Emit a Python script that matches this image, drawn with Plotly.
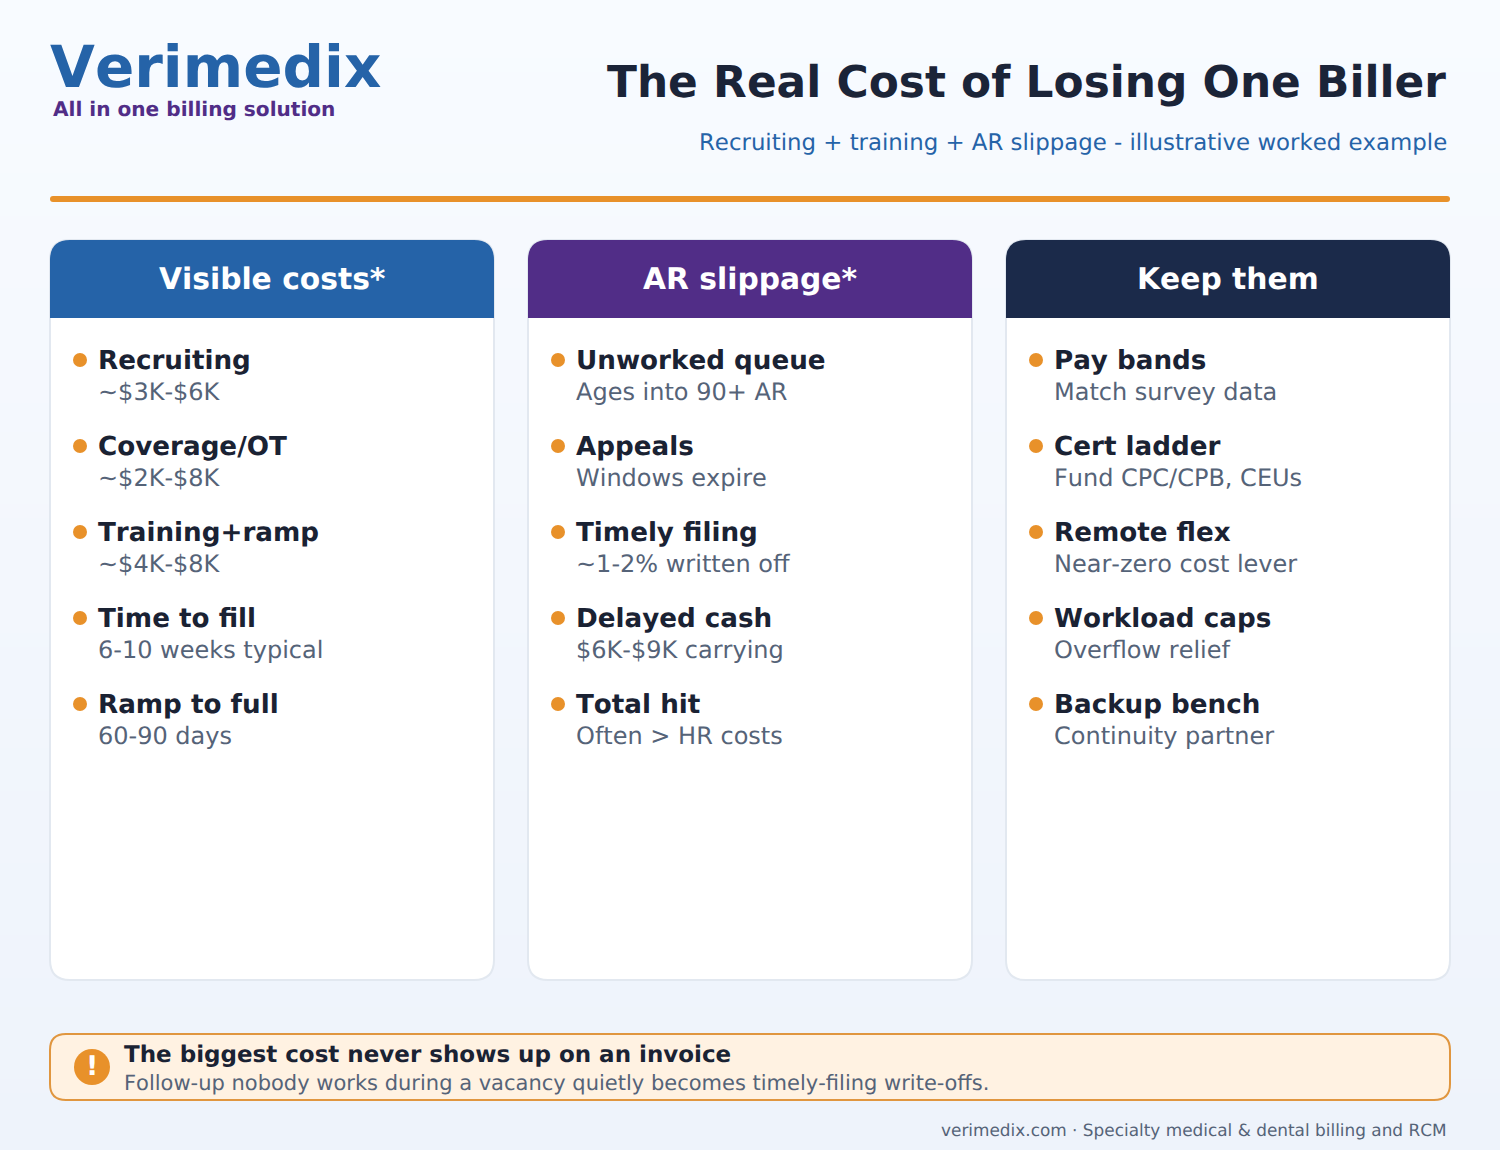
import plotly.graph_objects as go

WIDTH = 1500
HEIGHT = 1150

BLUE = "#2563A8"
PURPLE = "#512D87"
NAVY = "#1B2A4A"
ORANGE = "#E8912A"
DARK = "#1A2233"
GREY = "#556378"

columns = ["Visible costs*", "AR slippage*", "Keep them"]
column_colors = [BLUE, PURPLE, NAVY]
column_lefts = [50, 528, 1006]

item_titles = [
    ["Recruiting", "Coverage/OT", "Training+ramp", "Time to fill", "Ramp to full"],
    ["Unworked queue", "Appeals", "Timely filing", "Delayed cash", "Total hit"],
    ["Pay bands", "Cert ladder", "Remote flex", "Workload caps", "Backup bench"],
]
item_notes = [
    ["~$3K-$6K", "~$2K-$8K", "~$4K-$8K", "6-10 weeks typical", "60-90 days"],
    ["Ages into 90+ AR", "Windows expire", "~1-2% written off", "$6K-$9K carrying", "Often > HR costs"],
    ["Match survey data", "Fund CPC/CPB, CEUs", "Near-zero cost lever", "Overflow relief", "Continuity partner"],
]

FONT = "DejaVu Sans"


def rounded_rect(x0, y0, x1, y1, r):
    return (
        f"M{x0 + r},{y0} L{x1 - r},{y0} Q{x1},{y0} {x1},{y0 + r} "
        f"L{x1},{y1 - r} Q{x1},{y1} {x1 - r},{y1} L{x0 + r},{y1} "
        f"Q{x0},{y1} {x0},{y1 - r} L{x0},{y0 + r} Q{x0},{y0} {x0 + r},{y0} Z"
    )


def top_rounded(x0, y0, x1, y1, r):
    return (
        f"M{x0 + r},{y0} L{x1 - r},{y0} Q{x1},{y0} {x1},{y0 + r} "
        f"L{x1},{y1} L{x0},{y1} L{x0},{y0 + r} Q{x0},{y0} {x0 + r},{y0} Z"
    )


shapes = []
annotations = []


def add_text(text, x, y, size, color, anchor="left", bold=False):
    annotations.append(dict(
        text=f"<b>{text}</b>" if bold else text,
        x=x, y=y, xref="x", yref="y",
        xanchor=anchor, yanchor="middle",
        showarrow=False,
        borderpad=0,
        font=dict(family=FONT, size=size, color=color),
    ))


# Header
add_text("Verimedix", 49, 67, 58, BLUE, bold=True)
add_text("All in one billing solution", 52, 109, 20.1, PURPLE, bold=True)
add_text("The Real Cost of Losing One Biller", 1447, 82, 43.85, "#1B2438", anchor="right", bold=True)
add_text("Recruiting + training + AR slippage - illustrative worked example", 1448, 143, 22.85, BLUE, anchor="right")
shapes.append(dict(type="path", path=rounded_rect(50, 196, 1450, 202, 3), fillcolor=ORANGE, line_width=0))

# Cards
for left, name, color, titles, notes in zip(column_lefts, columns, column_colors, item_titles, item_notes):
    shapes.append(dict(type="path", path=rounded_rect(left, 240, left + 444, 980, 20),
                       fillcolor="white", line=dict(color="#E2E8F0", width=2)))
    shapes.append(dict(type="path", path=top_rounded(left, 240, left + 444, 318, 20),
                       fillcolor=color, line_width=0))
    add_text(name, left + 222, 279, 29.75, "white", anchor="center", bold=True)
    for i, (title, note) in enumerate(zip(titles, notes)):
        top = 360 + i * 86
        shapes.append(dict(type="circle", x0=left + 23, x1=left + 37, y0=top - 7, y1=top + 7,
                           fillcolor=ORANGE, line_width=0))
        add_text(title, left + 47, top + 1, 26.2, DARK, bold=True)
        add_text(note, left + 47, top + 32, 24, GREY)

# Callout
shapes.append(dict(type="path", path=rounded_rect(50, 1034, 1450, 1100, 16),
                   fillcolor="#FFF2E2", line=dict(color="#E0963F", width=2)))
shapes.append(dict(type="circle", x0=74, x1=110, y0=1049, y1=1085, fillcolor=ORANGE, line_width=0))
add_text("!", 92, 1066, 27, "white", anchor="center", bold=True)
add_text("The biggest cost never shows up on an invoice", 123, 1055, 23, DARK, bold=True)
add_text("Follow-up nobody works during a vacancy quietly becomes timely-filing write-offs.", 123, 1083, 21, GREY)
add_text("verimedix.com · Specialty medical &amp; dental billing and RCM", 1448, 1130, 16.9, GREY, anchor="right")

fig = go.Figure()

# Page background gradient, top to bottom
fig.add_trace(go.Heatmap(
    x=[0, WIDTH],
    y=[0, HEIGHT],
    z=[[0, 0], [1, 1]],
    colorscale=[[0, "#F8FBFF"], [1, "#EEF3FB"]],
    zsmooth="best",
    showscale=False,
    hoverinfo="skip",
))

fig.update_layout(
    width=WIDTH,
    height=HEIGHT,
    margin=dict(l=0, r=0, t=0, b=0),
    paper_bgcolor="#F4F7FD",
    plot_bgcolor="#F4F7FD",
    xaxis=dict(range=[0, WIDTH], visible=False, fixedrange=True),
    yaxis=dict(range=[HEIGHT, 0], visible=False, fixedrange=True),
    shapes=shapes,
    annotations=annotations,
    showlegend=False,
)

# Unhinted, unkerned glyphs. The family string changes too, since plotly caches
# text sizes by font and would otherwise anchor with the old measurements.
post = """
document.body.style.margin = '0';
document.body.style.overflow = 'hidden';
var st = document.createElement('style');
st.textContent = 'svg text { text-rendering: geometricPrecision !important; font-kerning: none !important; }';
document.head.appendChild(st);
var gd = document.querySelector('.plotly-graph-div');
var anns = JSON.parse(JSON.stringify(gd.layout.annotations));
anns.forEach(function (a) { a.font.family = 'DejaVu Sans, sans-serif'; });
Plotly.relayout(gd, {annotations: anns});
"""
fig.write_html("out.html", post_script=post, config={"displayModeBar": False})
